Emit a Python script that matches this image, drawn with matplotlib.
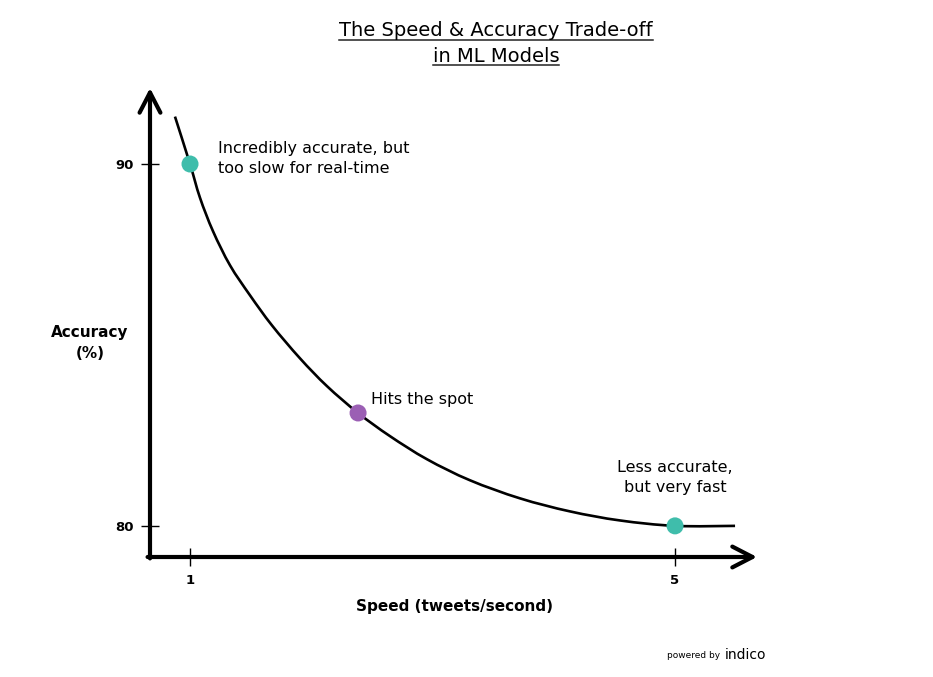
import matplotlib
matplotlib.use("Agg")
import numpy as np
import matplotlib.pyplot as plt
from matplotlib.lines import Line2D
from matplotlib.path import Path
from matplotlib.patches import PathPatch

plt.rcParams['font.family'] = ['DejaVu Sans']

# curve (speed in tweets/second, accuracy in %)
speed = [0.876, 1.0, 1.082, 1.190, 1.330, 1.495, 1.676, 1.907, 2.130,
         2.386, 2.649, 2.955, 3.309, 3.722, 4.134, 4.546, 5.0, 5.495]
accuracy = [91.31, 90.0, 89.07, 88.14, 87.20, 86.37, 85.54, 84.63, 83.86,
            83.12, 82.48, 81.84, 81.26, 80.76, 80.40, 80.15, 80.0, 80.0]

# highlighted models
pt_speed = [1.0, 2.386, 5.0]
pt_acc = [90.0, 83.12, 80.0]
pt_colors = ['#3fbdab', '#9b5fb4', '#3fbdab']
pt_labels = ['Incredibly accurate, but\ntoo slow for real-time',
             'Hits the spot',
             'Less accurate,\nbut very fast']

x_ticks = [1, 5]
y_ticks = [80, 90]


def smooth_path(xs, ys):
    """Catmull-Rom through the read points, drawn as cubic Bezier segments"""
    p = np.column_stack([xs, ys])
    verts = [p[0]]
    codes = [Path.MOVETO]
    for i in range(len(p) - 1):
        p0 = p[max(i - 1, 0)]
        p1, p2 = p[i], p[i + 1]
        p3 = p[min(i + 2, len(p) - 1)]
        verts += [p1 + (p2 - p0) / 6, p2 - (p3 - p1) / 6, p2]
        codes += [Path.CURVE4] * 3
    return Path(verts, codes)


fig = plt.figure(figsize=(9.33, 6.77), dpi=100)
ax = fig.add_axes([150 / 933, 1 - 557 / 677, 607 / 933, 469 / 677])
ax.set_xlim(0.67, 5.676)
ax.set_ylim(79.14, 92.10)

for s in ax.spines.values():
    s.set_visible(False)

# axis arrows
arrow = dict(arrowstyle='->,head_length=1.45,head_width=0.75', lw=3,
             color='black', shrinkA=0, shrinkB=0)
ax.annotate('', xy=(1, 0), xytext=(-0.004, 0), xycoords='axes fraction',
            arrowprops=arrow, annotation_clip=False)
ax.annotate('', xy=(0, 1), xytext=(0, -0.003), xycoords='axes fraction',
            arrowprops=arrow, annotation_clip=False)

ax.add_patch(PathPatch(smooth_path(speed, accuracy), fill=False,
                       edgecolor='black', lw=1.9, clip_on=False, zorder=3))
ax.scatter(pt_speed, pt_acc, s=150, c=pt_colors, zorder=4, clip_on=False,
           linewidths=0)

ax.text(1.23, 90.15, pt_labels[0], fontsize=11.5, ha='left', va='center',
        linespacing=1.45)
ax.text(2.49, 83.48, pt_labels[1], fontsize=11.5, ha='left', va='center')
ax.text(5.0, 81.33, pt_labels[2], fontsize=11.5, ha='center', va='center',
        linespacing=1.45)

ax.set_xticks(x_ticks)
ax.set_yticks(y_ticks)
ax.tick_params(axis='both', direction='inout', length=13, width=1,
               labelsize=9.5)
ax.tick_params(axis='x', pad=6)
ax.tick_params(axis='y', pad=5)
for lab in ax.get_xticklabels() + ax.get_yticklabels():
    lab.set_fontweight('bold')

fig.text(455 / 933, 1 - 606 / 677, 'Speed (tweets/second)', fontsize=11,
         ha='center', va='center', fontweight='bold')
fig.text(90 / 933, 1 - 343 / 677, 'Accuracy\n(%)', fontsize=11,
         ha='center', va='center', fontweight='bold', linespacing=1.45)

# title, underlined line by line
t1 = fig.text(496 / 933, 1 - 31 / 677, 'The Speed & Accuracy Trade-off',
              fontsize=14, ha='center', va='center')
t2 = fig.text(496 / 933, 1 - 56 / 677, 'in ML Models', fontsize=14,
              ha='center', va='center')
fig.canvas.draw()
r = fig.canvas.get_renderer()
for t in (t1, t2):
    bb = t.get_window_extent(r)
    yline = bb.y0 + 1
    fig.add_artist(Line2D([bb.x0 / 933, bb.x1 / 933], [yline / 677, yline / 677],
                          transform=fig.transFigure, color='#222222', lw=1.1))

fig.text(720 / 933, 1 - 656 / 677, 'powered by', fontsize=6.5, ha='right',
         va='center')
fig.text(725 / 933, 1 - 655 / 677, 'indico', fontsize=10, ha='left',
         va='center')

fig.savefig('out.png', dpi=100)
